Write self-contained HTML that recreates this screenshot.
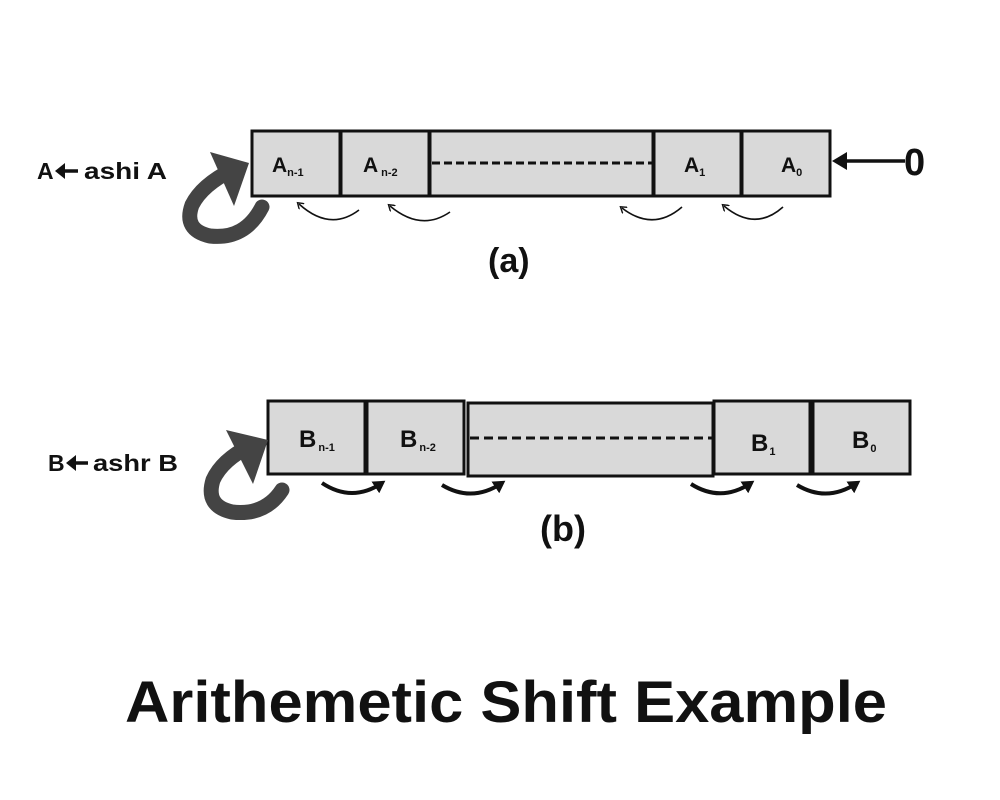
<!DOCTYPE html>
<html><head><meta charset="utf-8"><style>
html,body{margin:0;padding:0;background:#fff}
svg{display:block}
text{font-family:"Liberation Sans",sans-serif;font-weight:bold;fill:#111}
</style></head><body>
<svg width="1000" height="800" viewBox="0 0 1000 800" xmlns="http://www.w3.org/2000/svg">
<defs>
<marker id="th" markerWidth="8" markerHeight="8" refX="4" refY="4" orient="auto" markerUnits="userSpaceOnUse">
<path d="M0,0 L6,4 L0,8" fill="none" stroke="#111" stroke-width="1.4"/>
</marker>
<marker id="bh" markerWidth="14" markerHeight="14" refX="8" refY="7" orient="auto" markerUnits="userSpaceOnUse">
<path d="M0,0 L12,7 L0,14 Z" fill="#111"/>
</marker>
</defs>
<!-- Row A -->
<text x="37" y="179" font-size="23">A</text>
<path d="M58,171 L78,171" stroke="#111" stroke-width="3.5"/>
<path d="M55,171 L65,163 L65,179 Z" fill="#111"/>
<text x="84" y="179" font-size="23" textLength="83" lengthAdjust="spacingAndGlyphs">ashi A</text>
<g fill="#d9d9d9" stroke="#111" stroke-width="3">
<rect x="252" y="131" width="88" height="65"/>
<rect x="341" y="131" width="88" height="65"/>
<rect x="430" y="131" width="223" height="65"/>
<rect x="654" y="131" width="87" height="65"/>
<rect x="742" y="131" width="88" height="65"/>
</g>
<line x1="432" y1="163" x2="652" y2="163" stroke="#111" stroke-width="3" stroke-dasharray="8,4"/>
<text x="272" y="172" font-size="21">A<tspan font-size="11" dy="4">n-1</tspan></text>
<text x="363" y="172" font-size="21">A<tspan font-size="11" dy="4" dx="3">n-2</tspan></text>
<text x="684" y="172" font-size="21">A<tspan font-size="11" dy="4">1</tspan></text>
<text x="781" y="172" font-size="21">A<tspan font-size="11" dy="4">0</tspan></text>
<line x1="905" y1="161" x2="842" y2="161" stroke="#111" stroke-width="3.5"/>
<path d="M832,161 L847,152 L847,170 Z" fill="#111"/>
<text x="904" y="175" font-size="38">0</text>
<g fill="none" stroke="#111" stroke-width="1.6" marker-end="url(#th)">
<path d="M359,210 Q330,232 299,204"/>
<path d="M450,212 Q421,232 390,206"/>
<path d="M682,207 Q653,232 622,208"/>
<path d="M783,207 Q755,232 724,206"/>
</g>
<path d="M262,207 Q245,240 210,236 Q183,230 192,205 Q202,185 232,170" fill="none" stroke="#444" stroke-width="15" stroke-linecap="round"/>
<path d="M210,152 L249,163 L234,206 Z" fill="#444"/>
<text x="488" y="272" font-size="34">(a)</text>
<!-- Row B -->
<text x="48" y="471" font-size="23">B</text>
<path d="M69,463 L88,463" stroke="#111" stroke-width="3.5"/>
<path d="M66,463 L76,455 L76,471 Z" fill="#111"/>
<text x="93" y="471" font-size="23" textLength="85" lengthAdjust="spacingAndGlyphs">ashr B</text>
<g fill="#d9d9d9" stroke="#111" stroke-width="3">
<rect x="268" y="401" width="97" height="73"/>
<rect x="367" y="401" width="97" height="73"/>
<rect x="468" y="403" width="245" height="73"/>
<rect x="714" y="401" width="96" height="73"/>
<rect x="813" y="401" width="97" height="73"/>
</g>
<line x1="470" y1="438" x2="712" y2="438" stroke="#111" stroke-width="3" stroke-dasharray="9,5"/>
<text x="299" y="447" font-size="24">B<tspan font-size="11" dy="4" dx="2">n-1</tspan></text>
<text x="400" y="447" font-size="24">B<tspan font-size="11" dy="4" dx="2">n-2</tspan></text>
<text x="751" y="451" font-size="24">B<tspan font-size="11" dy="4" dx="1">1</tspan></text>
<text x="852" y="448" font-size="24">B<tspan font-size="11" dy="4" dx="1">0</tspan></text>
<g fill="none" stroke="#111" stroke-width="4" marker-end="url(#bh)">
<path d="M322,483 Q352,503 382,483"/>
<path d="M442,485 Q472,503 502,483"/>
<path d="M691,484 Q721,503 751,483"/>
<path d="M797,485 Q827,503 857,483"/>
</g>
<path d="M282,490 Q265,516 232,512 Q205,506 213,480 Q222,460 250,446" fill="none" stroke="#444" stroke-width="15" stroke-linecap="round"/>
<path d="M226,430 L268,440 L253,484 Z" fill="#444"/>
<text x="540" y="541" font-size="36">(b)</text>
<!-- Title -->
<text x="125" y="722" font-size="58" textLength="762" lengthAdjust="spacingAndGlyphs">Arithemetic Shift Example</text>
</svg>
</body></html>
